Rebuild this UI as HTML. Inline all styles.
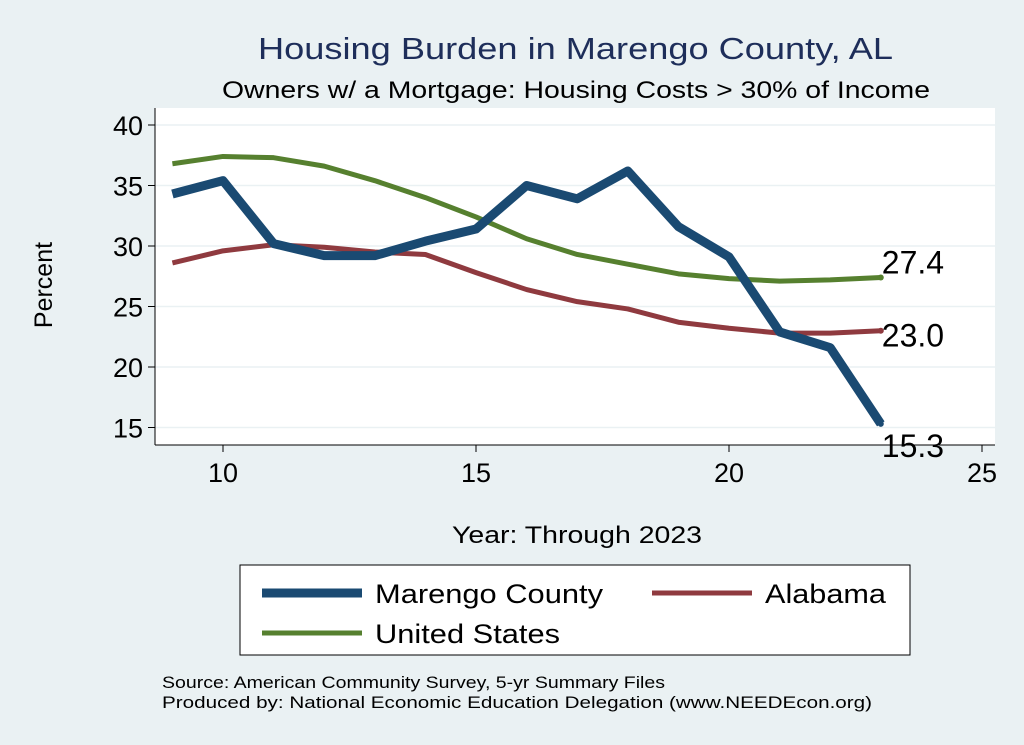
<!DOCTYPE html>
<html><head><meta charset="utf-8"><style>
body{margin:0;background:#eaf1f3;}
svg{display:block;font-family:"Liberation Sans",Arial,sans-serif;}
</style></head><body>
<svg width="1024" height="745" viewBox="0 0 1024 745">
<rect x="0" y="0" width="1024" height="745" fill="#eaf1f3"/>
<rect x="155" y="108" width="840" height="337" fill="#ffffff"/>
<text x="258" y="59" font-size="31" fill="#1e2e5a" textLength="635" lengthAdjust="spacingAndGlyphs">Housing Burden in Marengo County, AL</text>
<text x="222" y="98" font-size="24" fill="#000" textLength="708" lengthAdjust="spacingAndGlyphs">Owners w/ a Mortgage: Housing Costs &gt; 30% of Income</text>
<g id="grid"></g>
<g id="axes"></g>
<g id="series"></g>
<text x="52" y="285" text-anchor="middle" font-size="25" transform="rotate(-90 52 285)">Percent</text>
<text x="452" y="543" font-size="24" textLength="250" lengthAdjust="spacingAndGlyphs">Year: Through 2023</text>
<g>
<rect x="240" y="565" width="670" height="90" fill="#fff" stroke="#000" stroke-width="1"/>
<g><line x1="262" y1="593" x2="362" y2="593" stroke="#1a4a72" stroke-width="9"/><text x="375" y="603" font-size="27" textLength="228" lengthAdjust="spacingAndGlyphs">Marengo County</text></g>
<g><line x1="652" y1="593" x2="752" y2="593" stroke="#8f3a3f" stroke-width="5"/><text x="765" y="603" font-size="27" textLength="121" lengthAdjust="spacingAndGlyphs">Alabama</text></g>
<g><line x1="262" y1="633" x2="362" y2="633" stroke="#56802f" stroke-width="5"/><text x="375" y="643" font-size="27" textLength="185" lengthAdjust="spacingAndGlyphs">United States</text></g>
</g>
<text x="162" y="688" font-size="17" textLength="503" lengthAdjust="spacingAndGlyphs">Source: American Community Survey, 5-yr Summary Files</text>
<text x="162" y="708" font-size="17" textLength="710" lengthAdjust="spacingAndGlyphs">Produced by: National Economic Education Delegation (www.NEEDEcon.org)</text>
</svg>
<script>
const years=[9,10,11,12,13,14,15,16,17,18,19,20,21,22,23];
const marengo=[34.3,35.4,30.2,29.2,29.2,30.4,31.4,35.0,33.9,36.2,31.6,29.1,22.9,21.6,15.3];
const alabama=[28.6,29.6,30.1,29.9,29.5,29.3,27.8,26.4,25.4,24.8,23.7,23.2,22.8,22.8,23.0];
const us=[36.8,37.4,37.3,36.6,35.4,34.0,32.4,30.6,29.3,28.5,27.7,27.3,27.1,27.2,27.4];
const xTicks=[10,15,20,25];
const yTicks=[15,20,25,30,35,40];
const NS="http://www.w3.org/2000/svg";
function xs(v){return 223+(v-10)*50.6;}
function ys(v){return 125+(40-v)*12.1;}
function mk(tag,attrs,parent,txt){const e=document.createElementNS(NS,tag);for(const k in attrs)e.setAttribute(k,attrs[k]);if(txt!==undefined)e.textContent=txt;parent.appendChild(e);return e;}
const grid=document.getElementById('grid'),axes=document.getElementById('axes'),ser=document.getElementById('series');
mk('line',{x1:155,y1:108,x2:155,y2:445,stroke:'#000','stroke-width':1},axes);
mk('line',{x1:155,y1:445,x2:995,y2:445,stroke:'#000','stroke-width':1},axes);
yTicks.forEach(t=>{
 const g=mk('line',{x1:155,x2:995,y1:ys(t),y2:ys(t),stroke:'#eaf1f3','stroke-width':1.5},grid);
 
 
 mk('line',{x1:148,x2:155,y1:ys(t),y2:ys(t),stroke:'#000'},axes);
 const l=mk('text',{x:143,y:ys(t)+10,'text-anchor':'end','font-size':27},axes,String(t));
 
 
});
xTicks.forEach(t=>{
 mk('line',{x1:xs(t),x2:xs(t),y1:445,y2:452,stroke:'#000'},axes);
 const l=mk('text',{x:xs(t),y:482,'text-anchor':'middle','font-size':27},axes,String(t));
 
 
});
function drawLine(vals,color,w,name){
 const p=mk('polyline',{points:years.map((y,i)=>xs(y)+','+ys(vals[i])).join(' '),fill:'none',stroke:color,'stroke-width':w,'stroke-linejoin':'round'},ser);
 
 
}
drawLine(alabama,'#8f3a3f',5,'alabama-line');
drawLine(us,'#56802f',5,'us-line');
drawLine(marengo,'#1a4a72',9,'marengo-line');
const last=years.length-1;
[[us,'#56802f',-4],[alabama,'#8f3a3f',16],[marengo,'#1a4a72',33]].forEach(([v,c,dy])=>{
 mk('circle',{cx:xs(years[last]),cy:ys(v[last]),r:3,fill:c},ser);
 const l=mk('text',{x:xs(years[last])+1,y:ys(v[last])+dy,'font-size':32},ser,v[last].toFixed(1));
 
 
});
</script>
</body></html>
